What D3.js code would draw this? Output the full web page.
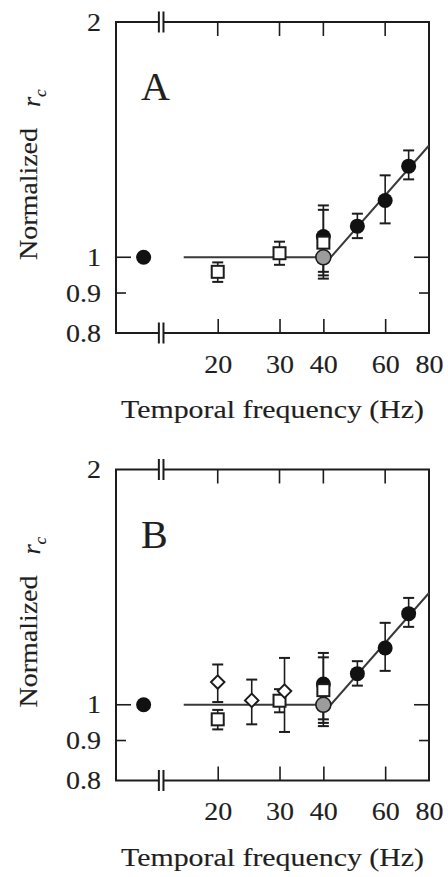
<!DOCTYPE html>
<html>
<head>
<meta charset="utf-8">
<script src="https://cdn.jsdelivr.net/npm/d3@7"></script>
<style>
  body { margin: 0; background: #fff; }
  svg text { font-family: "Liberation Serif", "Times New Roman", Times, serif; fill: #1f1f1f; stroke: #1f1f1f; stroke-width: 0.15px; }
</style>
</head>
<body>
<div id="chart"></div>
<script>
// ---- data ----
const panelLabels = ["A", "B"];
const xTicks = [20, 30, 40, 60, 80];
const yTicks = [0.8, 0.9, 1, 2];

const refValue = 1.0;              // reference point left of the axis break
const fitHz = [16, 42, 80];
const fitValue = [1, 1, 1.39];

const circleHz = [40, 50, 60, 70];
const circleValue = [1.063, 1.096, 1.182, 1.308];
const circleLow = [0.958, 1.058, 1.105, 1.258];
const circleHigh = [1.165, 1.137, 1.273, 1.37];

const squareHz = [20, 30, 40];
const squareValue = [0.958, 1.012, 1.044];
const squareLow = [0.930, 0.978, 0.939];
const squareHigh = [0.985, 1.047, 1.15];

const grayHz = [40];
const grayValue = [1.0];
const grayLow = [0.948];
const grayHigh = [1.05];

// diamonds only appear in panel B
const diamondHz = [20, 25, 31];
const diamondValue = [1.069, 1.013, 1.041];
const diamondLow = [1.008, 0.944, 0.923];
const diamondHigh = [1.126, 1.077, 1.148];

// ---- layout ----
const width = 448, height = 877;
const margin = { left: 116, right: 19 };
const plotH = 311;
const panelTop = [22, 469.5];
const refPos = 12.3;     // where the reference point sits on the Hz axis
const breakPos = 13.8;   // axis break marks
const stretch = 1.12;    // the scanned lettering is a bit wide

const ink = "#1c1c1c";

const svg = d3.select("#chart")
  .append("svg")
  .attr("width", width)
  .attr("height", height);

svg.append("rect").attr("width", width).attr("height", height).attr("fill", "#fff");

const xScale = d3.scaleLog().domain([10.26, 80]).range([margin.left, width - margin.right]);
const yScale = d3.scaleLog().domain([0.8, 2]).range([plotH, 0]);

const zip = (hz, v, lo, hi) => hz.map((h, i) => ({ hz: h, v: v[i], lo: lo[i], hi: hi[i] }));

panelLabels.forEach((label, p) => {
  const g = svg.append("g").attr("transform", `translate(0,${panelTop[p]})`);

  const x0 = xScale.range()[0], x1 = xScale.range()[1];

  // frame
  g.append("rect")
    .attr("x", x0).attr("y", 0)
    .attr("width", x1 - x0).attr("height", plotH)
    .attr("fill", "none")
    .attr("stroke", ink)
    .attr("stroke-width", 2);

  // x axis ticks + labels (ticks pointing in)
  const xAxis = d3.axisBottom(xScale)
    .tickValues(xTicks)
    .tickSize(-14)
    .tickPadding(22)
    .tickFormat(d3.format("d"));
  const gx = g.append("g").attr("transform", `translate(0,${plotH})`).call(xAxis);
  gx.select(".domain").remove();
  gx.selectAll(".tick line").attr("stroke", ink).attr("stroke-width", 1.6)
    .filter(d => d === 80).remove();
  gx.selectAll(".tick text")
    .attr("font-size", 25)
    .attr("transform", `scale(${stretch},1)`);

  // top ticks
  g.append("g").selectAll("line")
    .data(xTicks.filter(d => d < 80))
    .join("line")
    .attr("x1", d => xScale(d)).attr("x2", d => xScale(d))
    .attr("y1", 0).attr("y2", 14)
    .attr("stroke", ink).attr("stroke-width", 1.6);

  // y axis labels
  const yAxis = d3.axisLeft(yScale)
    .tickValues(yTicks)
    .tickSize(0)
    .tickPadding(15)
    .tickFormat(d => d);
  const gy = g.append("g").attr("transform", `translate(${x0},0)`).call(yAxis);
  gy.select(".domain").remove();
  gy.selectAll(".tick text")
    .attr("font-size", 25)
    .attr("x", -15 / stretch)
    .attr("transform", `scale(${stretch},1)`);

  // y ticks on both sides, inward
  const tickLen = d => (d === 1 ? 15 : 10);
  const inner = yTicks.filter(d => d > 0.8 && d < 2);
  g.append("g").selectAll("line")
    .data(inner)
    .join("line")
    .attr("x1", x0).attr("x2", d => x0 + tickLen(d))
    .attr("y1", d => yScale(d)).attr("y2", d => yScale(d))
    .attr("stroke", ink).attr("stroke-width", 1.6);
  g.append("g").selectAll("line")
    .data(inner)
    .join("line")
    .attr("x1", x1).attr("x2", d => x1 - tickLen(d))
    .attr("y1", d => yScale(d)).attr("y2", d => yScale(d))
    .attr("stroke", ink).attr("stroke-width", 1.6);

  // axis break marks on top and bottom
  const bx = xScale(breakPos);
  [0, plotH].forEach(yy => {
    g.append("rect")
      .attr("x", bx - 2).attr("y", yy - 2)
      .attr("width", 4).attr("height", 4)
      .attr("fill", "#fff");
    [-2.3, 2.3].forEach(off => {
      g.append("line")
        .attr("x1", bx + off).attr("x2", bx + off)
        .attr("y1", yy - 10.5).attr("y2", yy + 10.5)
        .attr("stroke", ink).attr("stroke-width", 2);
    });
  });

  // fitted line
  const line = d3.line().x(d => xScale(d[0])).y(d => yScale(d[1]));
  g.append("path")
    .datum(fitHz.map((h, i) => [h, fitValue[i]]))
    .attr("d", line)
    .attr("fill", "none")
    .attr("stroke", "#3a3a3a")
    .attr("stroke-width", 2);

  // series
  const circles = zip(circleHz, circleValue, circleLow, circleHigh);
  const squares = zip(squareHz, squareValue, squareLow, squareHigh);
  const grays = zip(grayHz, grayValue, grayLow, grayHigh);
  const diamonds = p === 1 ? zip(diamondHz, diamondValue, diamondLow, diamondHigh) : [];

  const errorBars = (data) => {
    const eg = g.append("g");
    eg.selectAll(".stem").data(data).join("line")
      .attr("x1", d => xScale(d.hz)).attr("x2", d => xScale(d.hz))
      .attr("y1", d => yScale(d.lo)).attr("y2", d => yScale(d.hi))
      .attr("stroke", ink).attr("stroke-width", 1.6);
    ["lo", "hi"].forEach(k => {
      eg.selectAll(".cap-" + k).data(data).join("line")
        .attr("x1", d => xScale(d.hz) - 5.5).attr("x2", d => xScale(d.hz) + 5.5)
        .attr("y1", d => yScale(d[k])).attr("y2", d => yScale(d[k]))
        .attr("stroke", ink).attr("stroke-width", 2);
    });
  };
  errorBars(circles);
  errorBars(squares);
  errorBars(grays);
  errorBars(diamonds);

  // reference point
  g.append("circle")
    .attr("cx", xScale(refPos)).attr("cy", yScale(refValue))
    .attr("r", 7.5).attr("fill", "#111");

  g.append("g").selectAll("circle").data(circles).join("circle")
    .attr("cx", d => xScale(d.hz)).attr("cy", d => yScale(d.v))
    .attr("r", 7.5).attr("fill", "#111");

  g.append("g").selectAll("rect").data(squares).join("rect")
    .attr("x", d => xScale(d.hz) - 6).attr("y", d => yScale(d.v) - 6)
    .attr("width", 12).attr("height", 12)
    .attr("fill", "#fff").attr("stroke", ink).attr("stroke-width", 2);

  g.append("g").selectAll("path").data(diamonds).join("path")
    .attr("transform", d => `translate(${xScale(d.hz)},${yScale(d.v)})`)
    .attr("d", d3.symbol(d3.symbolDiamond2, 115))
    .attr("fill", "#fff").attr("stroke", ink).attr("stroke-width", 2);

  g.append("g").selectAll("circle").data(grays).join("circle")
    .attr("cx", d => xScale(d.hz)).attr("cy", d => yScale(d.v))
    .attr("r", 7.5).attr("fill", "#9c9c9c")
    .attr("stroke", ink).attr("stroke-width", 1.6);

  // panel letter
  g.append("text")
    .attr("x", 141).attr("y", 78)
    .attr("font-size", 40)
    .text(label);

  // x label
  g.append("text")
    .attr("x", (x0 + x1) / 2).attr("y", plotH + 85)
    .attr("text-anchor", "middle")
    .attr("font-size", 26)
    .attr("textLength", 303)
    .attr("lengthAdjust", "spacingAndGlyphs")
    .text("Temporal frequency  (Hz)");

  // y label
  const yl = g.append("text")
    .attr("transform", "rotate(-90)")
    .attr("font-size", 26);
  yl.append("tspan")
    .attr("x", -238).attr("y", 37)
    .attr("textLength", 132)
    .attr("lengthAdjust", "spacingAndGlyphs")
    .text("Normalized");
  yl.append("tspan")
    .attr("x", -85).attr("y", 40)
    .attr("font-style", "italic")
    .text("r");
  yl.append("tspan")
    .attr("dy", 6)
    .attr("font-size", 17)
    .attr("font-style", "italic")
    .text("c");
});
</script>
</body>
</html>
